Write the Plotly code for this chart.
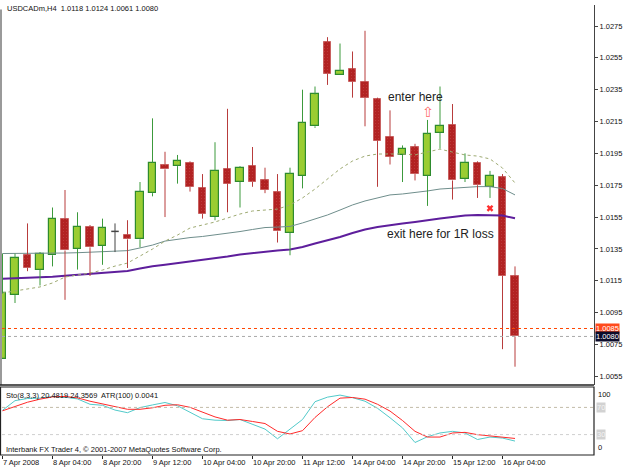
import plotly.graph_objects as go

# ---------------- data ----------------
symbol = "USDCADm,H4"
x_labels = ["7 Apr 2008", "8 Apr 04:00", "8 Apr 20:00", "9 Apr 12:00", "10 Apr 04:00",
            "10 Apr 20:00", "11 Apr 12:00", "14 Apr 04:00", "14 Apr 20:00", "15 Apr 12:00",
            "16 Apr 04:00"]
x_label_idx = [0, 4, 8, 12, 16, 20, 24, 28, 32, 36, 40]

opens = [1.0066, 1.0106, 1.0131, 1.0122, 1.0131, 1.0154, 1.0135, 1.0149, 1.0137, 1.0146,
         1.0144, 1.0141, 1.0170, 1.0188, 1.0187, 1.0189, 1.0173, 1.0155, 1.0185, 1.0177,
         1.0187, 1.0178, 1.0171, 1.0145, 1.0181, 1.0212, 1.0265, 1.0244, 1.0248, 1.0240,
         1.0229, 1.0205, 1.0194, 1.0199, 1.0181, 1.0208, 1.0213, 1.0179, 1.0189, 1.0174,
         1.0180, 1.0118]
highs = [1.0132, 1.0132, 1.0151, 1.0133, 1.0161, 1.0172, 1.0158, 1.0150, 1.0154, 1.0151,
         1.0153, 1.0177, 1.0217, 1.0196, 1.0194, 1.0190, 1.0182, 1.0202, 1.0223, 1.0187,
         1.0199, 1.0186, 1.0182, 1.0186, 1.0235, 1.0237, 1.0268, 1.0264, 1.0259, 1.0272,
         1.0230, 1.0222, 1.0200, 1.0201, 1.0216, 1.0237, 1.0226, 1.0195, 1.0190, 1.0184,
         1.0182, 1.0124]
lows = [1.0066, 1.0101, 1.0121, 1.0112, 1.0124, 1.0103, 1.0122, 1.0118, 1.0125, 1.0133,
        1.0123, 1.0136, 1.0168, 1.0155, 1.0176, 1.0171, 1.0154, 1.0153, 1.0158, 1.0161,
        1.0174, 1.0170, 1.0139, 1.0131, 1.0173, 1.0211, 1.0238, 1.0244, 1.0230, 1.0212,
        1.0174, 1.0188, 1.0177, 1.0178, 1.0162, 1.0198, 1.0166, 1.0177, 1.0167, 1.0167,
        1.0072, 1.0061]
closes = [1.0107, 1.0129, 1.0123, 1.0132, 1.0154, 1.0134, 1.0149, 1.0136, 1.0148, 1.0146,
          1.0141, 1.0171, 1.0189, 1.0185, 1.0190, 1.0174, 1.0157, 1.0184, 1.0176, 1.0186,
          1.0177, 1.0172, 1.0146, 1.0182, 1.0214, 1.0232, 1.0245, 1.0247, 1.0240, 1.0230,
          1.0203, 1.0193, 1.0198, 1.0182, 1.0207, 1.0212, 1.0178, 1.0189, 1.0175, 1.0181,
          1.0118, 1.0080]

ma_fast = [1.01073, 1.01086, 1.01098, 1.01111, 1.01136, 1.01173, 1.01186, 1.01198, 1.01217, 1.01242,
           1.01261, 1.01305, 1.01349, 1.01399, 1.01437, 1.01481, 1.01500, 1.01519, 1.01544, 1.01569,
           1.01588, 1.01594, 1.01600, 1.01626, 1.01670, 1.01726, 1.01789, 1.01852, 1.01902, 1.01933,
           1.01946, 1.01946, 1.01946, 1.01940, 1.01958, 1.01977, 1.01958, 1.01940, 1.01933, 1.01915,
           1.01858, 1.01764]
ma_mid = [1.01321, 1.01321, 1.01321, 1.01321, 1.01322, 1.01324, 1.01326, 1.01329, 1.01331, 1.01334,
          1.01339, 1.01356, 1.01374, 1.01399, 1.01412, 1.01421, 1.01428, 1.01437, 1.01447, 1.01459,
          1.01472, 1.01484, 1.01487, 1.01491, 1.01513, 1.01538, 1.01563, 1.01594, 1.01626, 1.01651,
          1.01670, 1.01689, 1.01695, 1.01703, 1.01714, 1.01726, 1.01732, 1.01739, 1.01741, 1.01741,
          1.01729, 1.01689]
ma_slow = [1.01163, 1.01165, 1.01167, 1.01170, 1.01175, 1.01181, 1.01187, 1.01193, 1.01199, 1.01203,
           1.01211, 1.01227, 1.01241, 1.01250, 1.01260, 1.01269, 1.01278, 1.01290, 1.01302, 1.01315,
           1.01324, 1.01334, 1.01340, 1.01346, 1.01362, 1.01384, 1.01403, 1.01425, 1.01450, 1.01472,
           1.01487, 1.01500, 1.01509, 1.01519, 1.01531, 1.01541, 1.01550, 1.01560, 1.01563, 1.01563,
           1.01560, 1.01542]

stoch_main = [65.7, 79.9, 83.1, 83.6, 86.1, 85.0, 82.5, 74.6, 73.1, 66.1,
              62.2, 69.7, 73.6, 77.2, 72.4, 62.7, 53.3, 51.2, 50.7, 52.2,
              45.2, 38.1, 23.9, 38.4, 52.2, 78.4, 85.1, 88.1, 84.3, 79.1,
              68.7, 54.8, 39.9, 18.4, 26.9, 32.4, 34.8, 32.4, 22.8, 26.4,
              24.9, 20.4819]
stoch_signal = [65.0, 70.9, 77.6, 82.1, 85.5, 86.1, 84.0, 79.1, 75.4, 71.6,
                67.2, 67.2, 69.4, 73.1, 73.9, 70.1, 62.7, 56.0, 51.2, 52.2,
                49.3, 46.3, 34.8, 30.9, 35.8, 55.2, 70.9, 83.6, 84.6, 82.1,
                74.6, 64.6, 50.7, 34.8, 26.4, 26.4, 32.4, 33.3, 29.9, 28.4,
                26.4, 24.3569]
stoch_levels = [70, 30]
atr_value = 0.0041
ask_price = 1.0085
price_ticks = [1.0055, 1.0075, 1.0095, 1.0115, 1.0135, 1.0155, 1.0175, 1.0195, 1.0215, 1.0235, 1.0255, 1.0275]

entry_idx, entry_price = 34, 1.0221
exit_idx, exit_price = 39, 1.01605

# ---------------- figure ----------------
FONT = "Liberation Sans, Arial, sans-serif"
n = len(opens)
idx = list(range(n))
up = [i for i in idx if closes[i] > opens[i]]
dn = [i for i in idx if closes[i] < opens[i]]
dj = [i for i in idx if closes[i] == opens[i]]


def wicks(ids):
    xs, ys = [], []
    for i in ids:
        top = max(opens[i], closes[i])
        bot = min(opens[i], closes[i])
        xs += [i, i, None, i, i, None]
        ys += [highs[i], top, None, bot, lows[i], None]
    return xs, ys


fig = go.Figure()

# moving averages
fig.add_trace(go.Scatter(x=idx, y=ma_slow, mode="lines", line=dict(color="#5E1E9C", width=2),
                         xaxis="x", yaxis="y", hoverinfo="skip"))
fig.add_trace(go.Scatter(x=idx, y=ma_mid, mode="lines", line=dict(color="#6F8E8C", width=1),
                         xaxis="x", yaxis="y", hoverinfo="skip"))
fig.add_trace(go.Scatter(x=idx, y=ma_fast, mode="lines", line=dict(color="#9EAA72", width=1, dash="dot"),
                         xaxis="x", yaxis="y", hoverinfo="skip"))

# wicks
wx, wy = wicks(up)
fig.add_trace(go.Scatter(x=wx, y=wy, mode="lines", line=dict(color="#3C9A3C", width=1),
                         xaxis="x", yaxis="y", hoverinfo="skip"))
wx, wy = wicks(dn)
fig.add_trace(go.Scatter(x=wx, y=wy, mode="lines", line=dict(color="#B83C3C", width=1),
                         xaxis="x", yaxis="y", hoverinfo="skip"))

# bodies
fig.add_trace(go.Bar(x=up, base=[opens[i] for i in up], y=[closes[i] - opens[i] for i in up],
                     width=0.6, marker=dict(color="#9ACD32", line=dict(color="#2E8B2E", width=1.2)),
                     xaxis="x", yaxis="y", hoverinfo="skip"))
fig.add_trace(go.Bar(x=dn, base=[closes[i] for i in dn], y=[opens[i] - closes[i] for i in dn],
                     width=0.6,
                     marker=dict(color="#B22222", line=dict(color="#C86060", width=1),
                                 pattern=dict(shape=".", fgcolor="#D47878", size=3, solidity=0.08)),
                     xaxis="x", yaxis="y", hoverinfo="skip"))
# doji
for i in dj:
    fig.add_trace(go.Scatter(x=[i, i], y=[lows[i], highs[i]], mode="lines",
                             line=dict(color="#444444", width=1), xaxis="x", yaxis="y", hoverinfo="skip"))
    fig.add_trace(go.Scatter(x=[i - 0.3, i + 0.3], y=[opens[i], closes[i]], mode="lines",
                             line=dict(color="#444444", width=1.5), xaxis="x", yaxis="y", hoverinfo="skip"))

# exit marker
fig.add_trace(go.Scatter(x=[exit_idx], y=[exit_price], mode="markers",
                         marker=dict(symbol="x", size=6, color="#FF3030", line=dict(width=0)),
                         xaxis="x", yaxis="y", hoverinfo="skip"))

# stochastic
fig.add_trace(go.Scatter(x=idx, y=stoch_main, mode="lines", line=dict(color="#52CACA", width=1),
                         xaxis="x2", yaxis="y2", hoverinfo="skip"))
fig.add_trace(go.Scatter(x=idx, y=stoch_signal, mode="lines", line=dict(color="#FF2A2A", width=1),
                         xaxis="x2", yaxis="y2", hoverinfo="skip"))

XR = [-0.04, 47.32]
MAIN_BOT = 70 / 450
LOW_TOP = 68 / 450

shapes = [
    # ask / bid lines
    dict(type="line", xref="paper", yref="y", x0=0, x1=1, y0=ask_price, y1=ask_price,
         line=dict(color="#FF4500", width=1, dash="dot")),
    dict(type="line", xref="paper", yref="y", x0=0, x1=1, y0=closes[-1], y1=closes[-1],
         line=dict(color="#A8A8A8", width=1, dash="dot")),
    # frames
    dict(type="line", xref="paper", yref="paper", x0=-0.0017, x1=-0.0017, y0=MAIN_BOT, y1=0.99,
         line=dict(color="#9A9A9A", width=2)),
    dict(type="line", xref="paper", yref="paper", x0=-0.0034, x1=1, y0=MAIN_BOT, y1=MAIN_BOT,
         line=dict(color="#222222", width=1.5)),
    dict(type="rect", xref="paper", yref="paper", x0=-0.0025, x1=1, y0=0, y1=LOW_TOP,
         line=dict(color="#222222", width=1.2)),
]
for lv, col in zip(stoch_levels, ["#C2BBA8", "#CFCFCF"]):
    shapes.append(dict(type="line", xref="paper", yref="y2", x0=0, x1=1, y0=lv, y1=lv,
                       line=dict(color=col, width=1, dash="dot")))

small = dict(family=FONT, size=7.5, color="#111111")
annotations = [
    dict(xref="paper", yref="paper", x=0.005, y=(455 - 8) / 450, xanchor="left", yanchor="middle",
         text=f"{symbol}  {opens[-1]:.4f} {highs[-1]:.4f} {lows[-1]:.4f} {closes[-1]:.4f}",
         showarrow=False, font=small),
    dict(xref="paper", yref="paper", x=0.003, y=(455 - 395) / 450, xanchor="left", yanchor="middle",
         text=f"Sto(8,3,3) {stoch_main[-1]:.4f} {stoch_signal[-1]:.4f}  ATR(100) {atr_value:.4f}",
         showarrow=False, font=small),
    dict(xref="paper", yref="paper", x=0.003, y=(455 - 449) / 450, xanchor="left", yanchor="middle",
         text="Interbank FX Trader 4, © 2001-2007 MetaQuotes Software Corp.",
         showarrow=False, font=small),
    dict(xref="x", yref="y", x=30.7, y=1.02304, xanchor="left", yanchor="middle", text="enter here",
         showarrow=False, font=dict(family=FONT, size=12, color="#222222")),
    dict(xref="x", yref="y", x=30.6, y=1.01444, xanchor="left", yanchor="middle",
         text="exit here for 1R loss", showarrow=False, font=dict(family=FONT, size=12, color="#222222")),
    dict(xref="x", yref="y", x=entry_idx, y=entry_price, xanchor="center", yanchor="middle", text="⇧",
         showarrow=False, font=dict(family="DejaVu Sans", size=14, color="#FF6A6A")),
    # price tags
    dict(xref="paper", yref="y", x=1, xshift=1, y=ask_price, xanchor="left", yanchor="middle",
         text=f"{ask_price:.4f}", showarrow=False, bgcolor="#FF4A1C", borderpad=0,
         font=dict(family=FONT, size=7.5, color="white")),
    dict(xref="paper", yref="y", x=1, xshift=1, y=closes[-1], xanchor="left", yanchor="middle",
         text=f"{closes[-1]:.4f}", showarrow=False, bgcolor="#0C0C2A", borderpad=0,
         font=dict(family=FONT, size=7.5, color="white")),
    # stochastic scale
    dict(xref="paper", yref="y2", x=1, xshift=2, y=100, xanchor="left", yanchor="top", yshift=-1,
         text="100", showarrow=False, font=small),
    dict(xref="paper", yref="y2", x=1, xshift=2, y=0, xanchor="left", yanchor="bottom", yshift=1,
         text="0", showarrow=False, font=small),
]
for lv in stoch_levels:
    annotations.append(dict(xref="paper", yref="y2", x=1, xshift=2, y=lv, xanchor="left", yanchor="middle",
                            text=str(lv), showarrow=False, bgcolor="#D2D2D2", borderpad=0,
                            font=dict(family=FONT, size=7.5, color="#F4F4F4")))
for i, lab in zip(x_label_idx, x_labels):
    annotations.append(dict(xref="x2", yref="paper", x=i, y=0, xanchor="left", yanchor="top",
                            xshift=-2, yshift=-1, text=lab, showarrow=False, font=small))

fig.update_layout(
    width=625, height=469,
    margin=dict(l=2, r=31, t=5, b=14),
    paper_bgcolor="white", plot_bgcolor="white",
    showlegend=False, barmode="overlay", bargap=0,
    xaxis=dict(domain=[0, 1], range=XR, anchor="y", showticklabels=False, showgrid=False,
               zeroline=False, ticks=""),
    xaxis2=dict(domain=[0, 1], range=XR, anchor="y2", tickvals=x_label_idx, ticks="outside",
                ticklen=3, tickcolor="#222222", showticklabels=False, showgrid=False, zeroline=False),
    yaxis=dict(domain=[MAIN_BOT, 1], range=[1.00495, 1.02882], side="right", anchor="x",
               tickvals=price_ticks, ticktext=[f"{v:.4f}" for v in price_ticks],
               ticks="outside", ticklen=3, tickcolor="#444444", showline=True, linecolor="#444444",
               linewidth=1, showgrid=False, zeroline=False, tickfont=small),
    yaxis2=dict(domain=[0, LOW_TOP], range=[0, 100], anchor="x2", showticklabels=False,
                showgrid=False, zeroline=False),
    shapes=shapes, annotations=annotations,
)

fig.write_html("out.html")
